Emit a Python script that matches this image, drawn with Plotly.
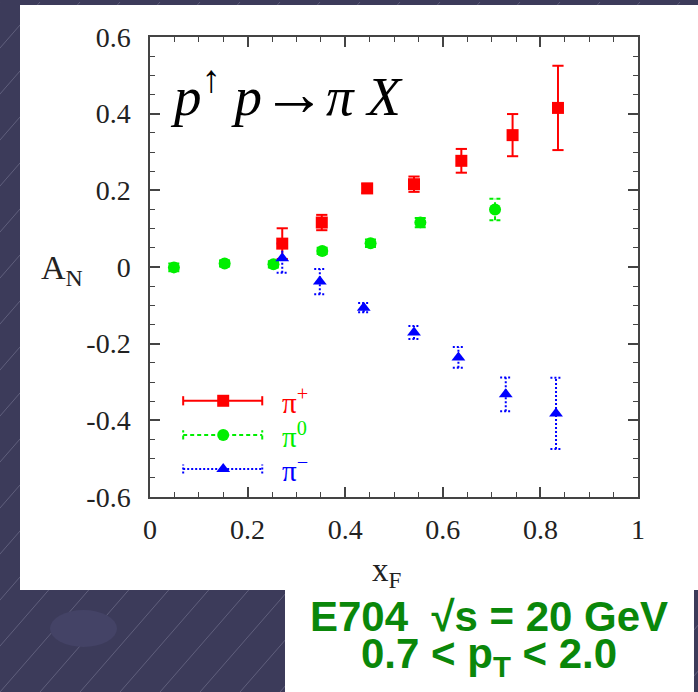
import plotly.graph_objects as go

# ---------------- data ----------------
xf_plus = [0.271, 0.352, 0.445, 0.541, 0.638, 0.743, 0.836]
an_plus = [0.061, 0.116, 0.205, 0.216, 0.277, 0.344, 0.415]
err_plus = [0.040, 0.020, 0.012, 0.020, 0.031, 0.055, 0.110]

xf_zero = [0.049, 0.153, 0.253, 0.353, 0.452, 0.554, 0.707]
an_zero = [-0.001, 0.009, 0.007, 0.042, 0.062, 0.116, 0.150]
err_zero = [0.010, 0.008, 0.008, 0.008, 0.010, 0.012, 0.028]

xf_minus = [0.271, 0.348, 0.438, 0.541, 0.632, 0.729, 0.832]
an_minus = [0.023, -0.038, -0.106, -0.171, -0.236, -0.332, -0.382]
err_minus = [0.038, 0.033, 0.012, 0.017, 0.027, 0.044, 0.093]

x_ticks = [0, 0.2, 0.4, 0.6, 0.8, 1]
x_ticklabels = ["0", "0.2", "0.4", "0.6", "0.8", "1"]
y_ticks = [-0.6, -0.4, -0.2, 0, 0.2, 0.4, 0.6]
y_ticklabels = ["-0.6", "-0.4", "-0.2", "0", "0.2", "0.4", "0.6"]

series_names = ["π<sup>+</sup>", "π<sup>0</sup>", "π<sup>−</sup>"]
# ---------------- style ----------------
W, H = 698, 692
ML, MR, MT, MB = 150, 60, 37, 195
PW, PH = W - ML - MR, H - MT - MB
RED, GREEN, BLUE = "#ff0000", "#00ee00", "#0000ff"
BG = "#3c3b5a"
SERIF = "Liberation Serif, Times New Roman, serif"
SANS = "Liberation Sans, Arial, sans-serif"
CAP = 0.0115  # half cap width in x units


def px_x(p):
    return (p - ML) / PW


def px_y(p):
    return (H - MB - p) / PH


def err_segments(xs, ys, es):
    sx, sy = [], []
    for x, y, e in zip(xs, ys, es):
        sx += [x, x, None, x - CAP, x + CAP, None, x - CAP, x + CAP, None]
        sy += [y - e, y + e, None, y - e, y - e, None, y + e, y + e, None]
    return sx, sy


fig = go.Figure()

groups = [
    (xf_plus, an_plus, err_plus, RED, "solid", "square"),
    (xf_zero, an_zero, err_zero, GREEN, "4px,3px", "circle"),
    (xf_minus, an_minus, err_minus, BLUE, "2px,2px", "triangle-up"),
]
for xs, ys, es, col, dash, sym in groups:
    sx, sy = err_segments(xs, ys, es)
    fig.add_trace(go.Scatter(x=sx, y=sy, mode="lines", line=dict(color=col, width=2, dash=dash),
                             hoverinfo="skip", showlegend=False))
for xs, ys, es, col, dash, sym in groups:
    fig.add_trace(go.Scatter(x=xs, y=ys, mode="markers",
                             marker=dict(symbol=sym, size=12, color=col, line=dict(width=0)),
                             showlegend=False))

# ---------------- manual legend ----------------
leg_x0, leg_x1, leg_xm = 0.068, 0.230, 0.150
leg_y = [-0.349, -0.438, -0.527]
leg_cap = 0.012
for (xs, ys, es, col, dash, sym), ly, name in zip(groups, leg_y, series_names):
    fig.add_trace(go.Scatter(
        x=[leg_x0, leg_x1, None, leg_x0, leg_x0, None, leg_x1, leg_x1],
        y=[ly, ly, None, ly - leg_cap, ly + leg_cap, None, ly - leg_cap, ly + leg_cap],
        mode="lines", line=dict(color=col, width=2, dash=dash), hoverinfo="skip", showlegend=False))
    fig.add_trace(go.Scatter(x=[leg_xm], y=[ly], mode="markers",
                             marker=dict(symbol=sym, size=12, color=col), hoverinfo="skip",
                             showlegend=False))
    fig.add_annotation(x=0.266, y=ly, xref="x", yref="y", text=name, showarrow=False,
                       xanchor="left", yanchor="middle", font=dict(family=SERIF, size=29, color=col))

# ---------------- background decoration ----------------
shapes = []
for i in range(-20, 30):
    x0 = i * 40
    shapes.append(dict(type="line", xref="paper", yref="paper",
                       x0=px_x(x0), y0=px_y(H), x1=px_x(x0 + 600), y1=px_y(H - 690),
                       line=dict(color="rgba(190,190,215,0.28)", width=1), layer="below"))
shapes.append(dict(type="circle", xref="paper", yref="paper",
                   x0=px_x(50), x1=px_x(117), y0=px_y(647), y1=px_y(610),
                   fillcolor="#444366", line=dict(width=0), layer="below"))
shapes.append(dict(type="rect", xref="paper", yref="paper",
                   x0=px_x(20), x1=px_x(W + 2), y0=px_y(590), y1=px_y(5),
                   fillcolor="white", line=dict(width=0), layer="below"))
shapes.append(dict(type="rect", xref="paper", yref="paper",
                   x0=px_x(285), x1=px_x(694), y0=px_y(H + 2), y1=px_y(589),
                   fillcolor="white", line=dict(width=0), layer="below"))

# ---------------- texts ----------------
fig.add_annotation(xref="paper", yref="paper", x=px_x(168), y=px_y(94),
                   text="<i>p</i><sup>↑</sup> <i>p</i><span style='font-size:64px'>→</span><i>π X</i>",
                   showarrow=False, xanchor="left", yanchor="middle",
                   font=dict(family=SERIF, size=55, color="black"))
fig.add_annotation(xref="paper", yref="paper", x=px_x(62), y=px_y(270),
                   text="A<sub>N</sub>", showarrow=False, xanchor="center", yanchor="middle",
                   font=dict(family=SERIF, size=34, color="#222"))
fig.add_annotation(xref="paper", yref="paper", x=px_x(387), y=px_y(572),
                   text="x<sub>F</sub>", showarrow=False, xanchor="center", yanchor="middle",
                   font=dict(family=SERIF, size=33, color="#222"))
fig.add_annotation(xref="paper", yref="paper", x=px_x(489), y=px_y(616),
                   text="<b>E704  √s = 20 GeV</b>", showarrow=False, xanchor="center", yanchor="middle",
                   font=dict(family=SANS, size=42, color="#0a870a"))
fig.add_annotation(xref="paper", yref="paper", x=px_x(489), y=px_y(656),
                   text="<b>0.7 < p<sub>T</sub> < 2.0</b>", showarrow=False, xanchor="center",
                   yanchor="middle", font=dict(family=SANS, size=42, color="#0a870a"))

axis_common = dict(showgrid=False, zeroline=False, showline=True, linecolor="#444", linewidth=1.5,
                   mirror="allticks", ticks="inside", ticklen=10, tickwidth=1.5, tickcolor="#444",
                   tickfont=dict(family=SERIF, size=28, color="#222"))
fig.update_xaxes(range=[0, 1], tickvals=x_ticks, ticktext=x_ticklabels,
                 minor=dict(dtick=0.05, ticks="inside", ticklen=5, tickwidth=1.2, tickcolor="#444"),
                 ticklabelstandoff=7, **axis_common)
fig.update_yaxes(range=[-0.6, 0.6], tickvals=y_ticks, ticktext=y_ticklabels,
                 minor=dict(dtick=0.05, ticks="inside", ticklen=5, tickwidth=1.2, tickcolor="#444"),
                 ticklabelstandoff=12, **axis_common)

fig.update_layout(width=W, height=H, margin=dict(l=ML, r=MR, t=MT, b=MB, autoexpand=False),
                  paper_bgcolor=BG, plot_bgcolor="rgba(0,0,0,0)", shapes=shapes, showlegend=False)

fig.write_html("out.html")
